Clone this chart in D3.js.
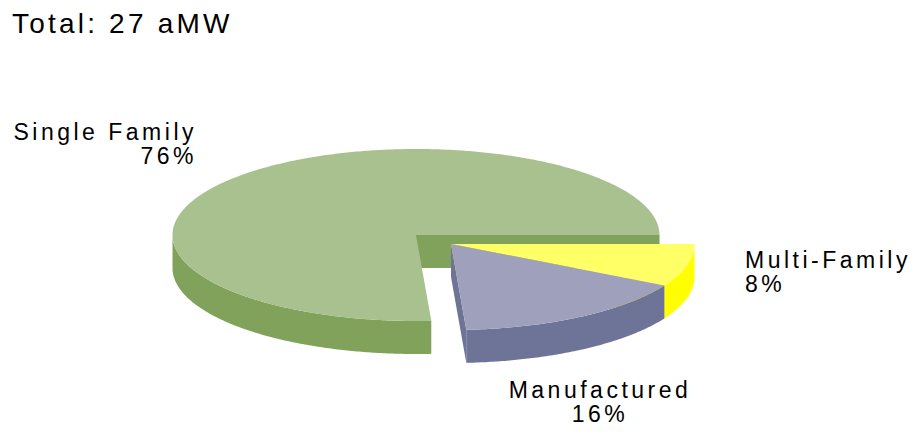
<html>
<head>
<script src="https://d3js.org/d3.v7.min.js"></script>
<style>
  body { margin: 0; background: #fff; }
  text { font-family: "Liberation Sans", Arial, sans-serif; fill: #000; }
</style>
</head>
<body>
<svg width="919" height="441"></svg>
<script>
    // pie data, starting at 3 o'clock and going clockwise
    var categories = ["Multi-Family", "Manufactured", "Single Family"];
    var shares = [8, 16, 76];
    var topColors = ["#FFFF66", "#9EA0BC", "#A8C18F"];
    var sideColors = ["#FFFF00", "#6E7398", "#80A25A"];
    var title = "Total: 27 aMW";

    var svg = d3.select("svg");

    var rx = 243.5, ry = 86, depth = 33;
    // single family sits at the base centre, the other two are pulled out
    var centers = [[451, 244], [451, 244], [416, 235]];

    var pie = d3.pie().sort(null)
        .startAngle(Math.PI / 2)
        .endAngle(Math.PI / 2 + 2 * Math.PI);
    var arcs = pie(shares);

    // d3 angle (0 = 12 o'clock) -> ellipse parameter (0 = 3 o'clock)
    function param(a) { return a - Math.PI / 2; }

    function pt(c, t, dz) {
        return [c[0] + rx * Math.cos(t), c[1] + ry * Math.sin(t) + (dz || 0)];
    }

    function sample(t0, t1) {
        var n = Math.max(2, Math.ceil(Math.abs(t1 - t0) / 0.01));
        return d3.range(n + 1).map(function(i) { return t0 + (t1 - t0) * i / n; });
    }

    var line = d3.line();

    var g = svg.append("g");

    // paint back to front: the big slice first, then the pulled-out ones
    [2, 0, 1].forEach(function(i) {
        var d = arcs[i];
        var c = centers[i];
        var t0 = param(d.startAngle), t1 = param(d.endAngle);

        // radial cut faces that turn toward the viewer
        if (Math.cos(t1) > 0.001) {
            var p = pt(c, t1);
            g.append("path")
             .attr("d", line([c, p, [p[0], p[1] + depth], [c[0], c[1] + depth]]) + "Z")
             .attr("fill", sideColors[i]);
        }
        if (Math.cos(t0) < -0.001) {
            var q = pt(c, t0);
            g.append("path")
             .attr("d", line([c, q, [q[0], q[1] + depth], [c[0], c[1] + depth]]) + "Z")
             .attr("fill", sideColors[i]);
        }

        // outer wall, only the front half (0..PI, mod 2PI)
        [[0, Math.PI], [2 * Math.PI, 3 * Math.PI]].forEach(function(r) {
            var a = Math.max(t0, r[0]), b = Math.min(t1, r[1]);
            if (b <= a) return;
            var ts = sample(a, b);
            var pts = ts.map(function(t) { return pt(c, t); })
                .concat(ts.slice().reverse().map(function(t) { return pt(c, t, depth); }));
            g.append("path")
             .attr("d", line(pts) + "Z")
             .attr("fill", sideColors[i]);
        });

        // top face
        var top = [c].concat(sample(t0, t1).map(function(t) { return pt(c, t); }));
        g.append("path")
         .attr("d", line(top) + "Z")
         .attr("fill", topColors[i]);
    });

    svg.append("text")
       .attr("x", 12)
       .attr("y", 33)
       .attr("font-size", "28px")
       .attr("letter-spacing", "3.2px")
       .text(title);

    // labels: [category index, x, y, anchor]
    var labelPos = [
        [0, 745, 268, "start"],
        [1, 600, 398, "middle"],
        [2, 197, 140, "end"]
    ];
    labelPos.forEach(function(l) {
        var i = l[0];
        var t = svg.append("text")
            .attr("font-size", "23px")
            .attr("letter-spacing", "3.5px")
            .attr("text-anchor", l[3]);
        t.append("tspan").attr("x", l[1]).attr("y", l[2]).text(categories[i]);
        t.append("tspan").attr("x", l[1]).attr("y", l[2] + 24).text(shares[i] + "%");
    });
</script>
</body>
</html>
